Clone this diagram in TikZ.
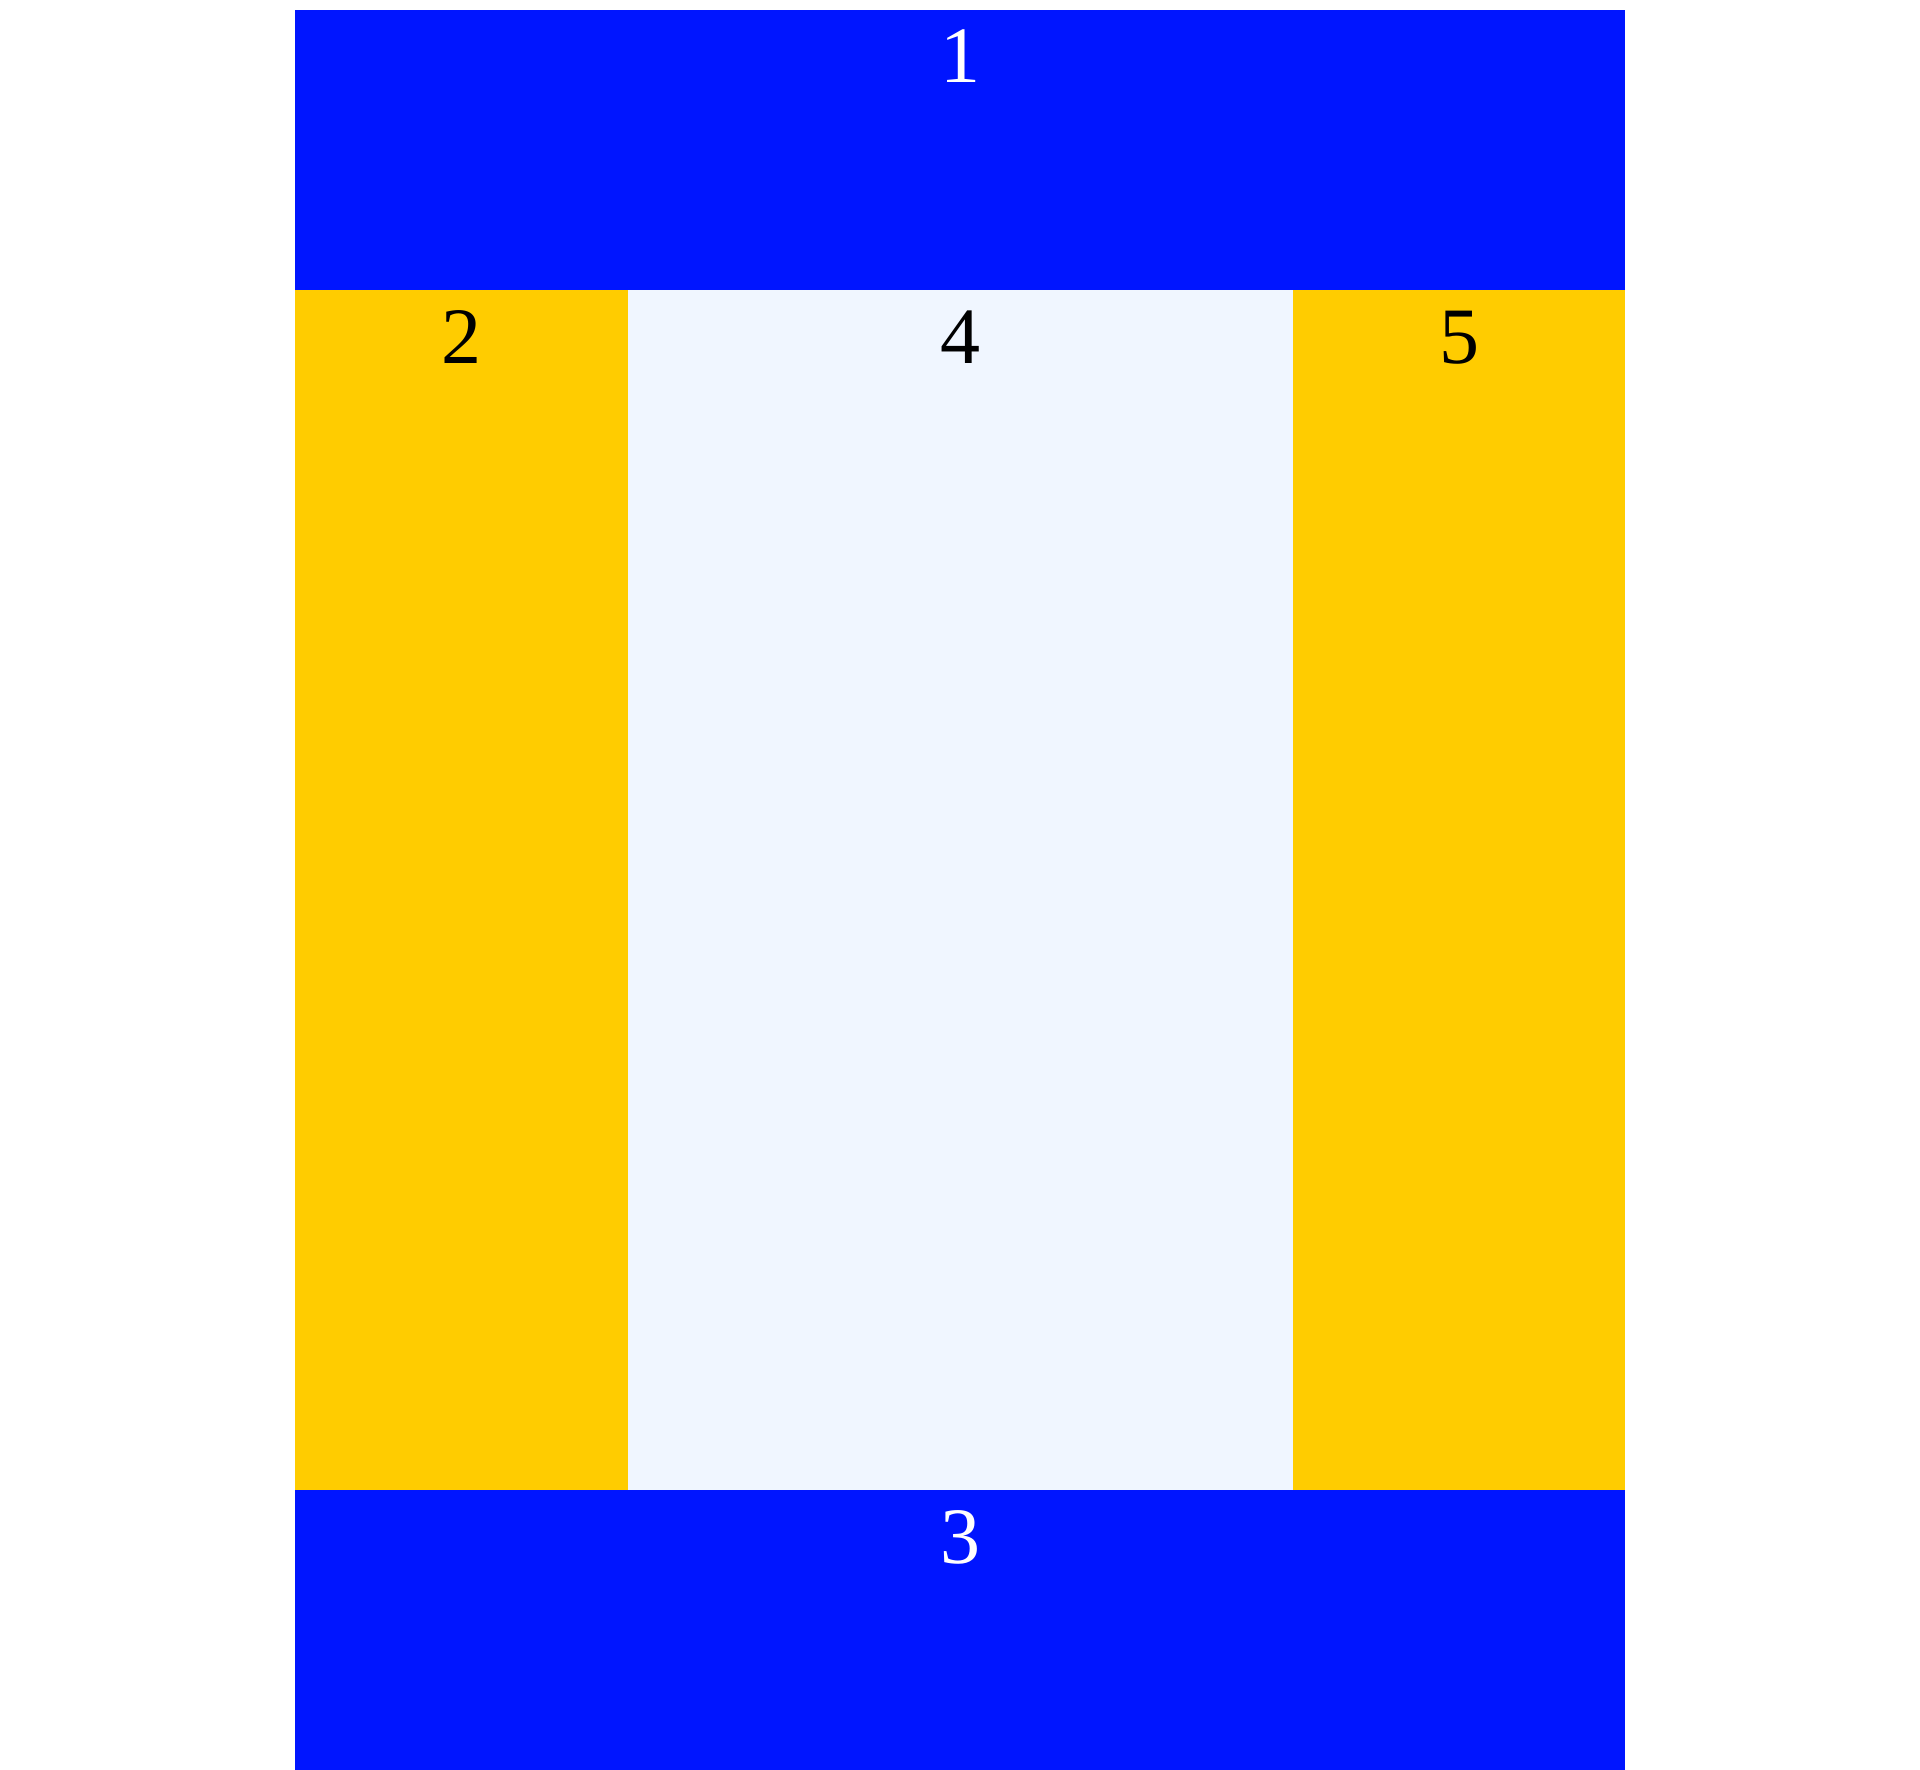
\documentclass[tikz,border=0pt]{standalone}
\usepackage{fontspec}
\setmainfont{Liberation Serif}
\definecolor{bandblue}{RGB}{0,21,255}
\definecolor{sideyellow}{RGB}{255,204,0}
\definecolor{paleblue}{RGB}{240,246,255}
\begin{document}
\begin{tikzpicture}[x=1pt,y=-1pt,
  lbl/.style={anchor=base,inner sep=0pt,font=\fontsize{80}{80}\selectfont}]
\useasboundingbox (0,0) rectangle (1920,1770);
\fill[white] (0,0) rectangle (1920,1770);
\fill[bandblue] (295,10) rectangle (1625,290);
\fill[sideyellow] (295,290) rectangle (628,1490);
\fill[paleblue] (628,290) rectangle (1293,1490);
\fill[sideyellow] (1293,290) rectangle (1625,1490);
\fill[bandblue] (295,1490) rectangle (1625,1770);
\node[lbl,text=white] (n1) at (960,82) {1};
\node[lbl,text=black] (n2) at (461.5,363) {2};
\node[lbl,text=black] (n4) at (960.5,363) {4};
\node[lbl,text=black] (n5) at (1459,363) {5};
\node[lbl,text=white] (n3) at (960,1563) {3};
\end{tikzpicture}
\end{document}
